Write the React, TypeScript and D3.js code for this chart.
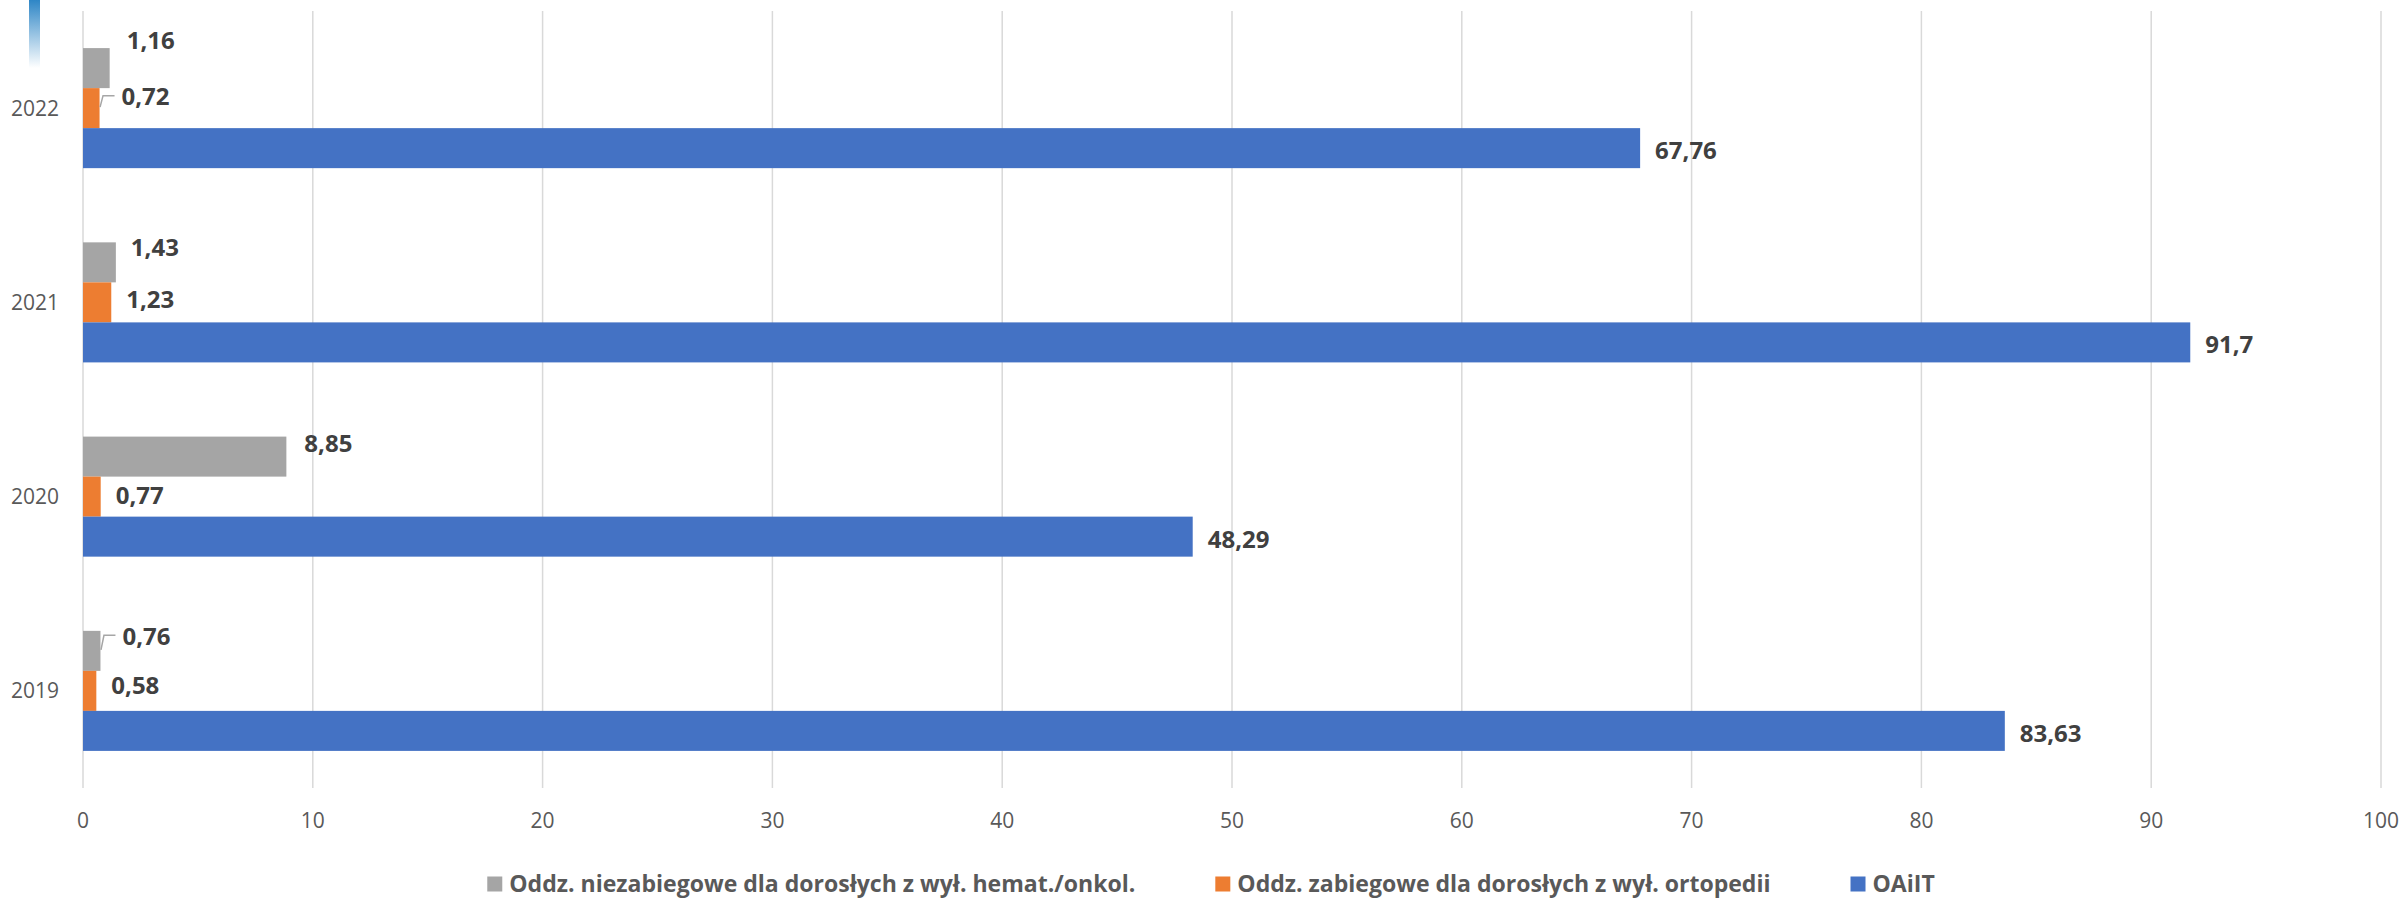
import React, { useEffect, useRef } from 'react';
import * as d3 from 'd3';

// Categories (top to bottom) and series values
const years = ['2022', '2021', '2020', '2019'];
const seriesNames = [
  'Oddz. niezabiegowe dla dorosłych z wył. hemat./onkol.',
  'Oddz. zabiegowe dla dorosłych z wył. ortopedii',
  'OAiIT',
];
const hematOnkol = [1.16, 1.43, 8.85, 0.76];
const ortopedia = [0.72, 1.23, 0.77, 0.58];
const oaiit = [67.76, 91.7, 48.29, 83.63];
const xTicks = [0, 10, 20, 30, 40, 50, 60, 70, 80, 90, 100];

const seriesColors = ['#A5A5A5', '#ED7D31', '#4472C4'];

// Manual label nudges per series / year (dx, dy in px), some with leader lines
const labelNudges = [
  [{ dx: 2, dy: -30 }, { dx: 0, dy: -17 }, { dx: 3, dy: -16 }, { dx: 7, dy: -17, leader: true }],
  [{ dx: 7, dy: -14, leader: true }, { dx: 0, dy: -5 }, { dx: 0, dy: -4 }, { dx: 0, dy: -8 }],
  [{ dx: 0, dy: 0 }, { dx: 0, dy: 0 }, { dx: 0, dy: 0 }, { dx: 0, dy: 0 }],
];

const W = 2405;
const H = 900;
const FONT = "'Open Sans', 'DejaVu Sans', sans-serif";

const fmt = (v: number) => String(v).replace('.', ',');

export default function App() {
  const ref = useRef<SVGSVGElement | null>(null);

  useEffect(() => {
    const svg = d3.select(ref.current);
    svg.selectAll('*').remove();

    const series = [hematOnkol, ortopedia, oaiit];

    const x = d3.scaleLinear().domain([0, 100]).range([83, 2381]);
    const y = d3
      .scaleBand<string>()
      .domain(years)
      .range([11, 788])
      .paddingInner(0.382)
      .paddingOuter(0.191);
    const inner = d3
      .scaleBand<number>()
      .domain([0, 1, 2])
      .range([0, y.bandwidth()]);

    // small gradient marker in the top-left corner
    const defs = svg.append('defs');
    const grad = defs
      .append('linearGradient')
      .attr('id', 'cornerGrad')
      .attr('x1', 0)
      .attr('y1', 0)
      .attr('x2', 0)
      .attr('y2', 1);
    grad.append('stop').attr('offset', '0%').attr('stop-color', '#2E86C6');
    grad.append('stop').attr('offset', '100%').attr('stop-color', '#FFFFFF');
    svg
      .append('rect')
      .attr('x', 29)
      .attr('y', 0)
      .attr('width', 11)
      .attr('height', 68)
      .attr('fill', 'url(#cornerGrad)');

    // vertical gridlines
    svg
      .append('g')
      .selectAll('line')
      .data(xTicks)
      .join('line')
      .attr('x1', (d) => x(d))
      .attr('x2', (d) => x(d))
      .attr('y1', 11)
      .attr('y2', 788)
      .attr('stroke', '#D9D9D9')
      .attr('stroke-width', 1.5);

    // x tick labels
    svg
      .append('g')
      .selectAll('text')
      .data(xTicks)
      .join('text')
      .attr('x', (d) => x(d))
      .attr('y', 827.5)
      .attr('text-anchor', 'middle')
      .attr('font-family', FONT)
      .attr('font-size', 21)
      .attr('fill', '#595959')
      .text((d) => String(d));

    // category labels
    svg
      .append('g')
      .selectAll('text')
      .data(years)
      .join('text')
      .attr('x', 59)
      .attr('y', (d) => (y(d) as number) + y.bandwidth() / 2 + 7.5)
      .attr('text-anchor', 'end')
      .attr('font-family', FONT)
      .attr('font-size', 21)
      .attr('fill', '#595959')
      .text((d) => d);

    // bars and labels
    series.forEach((vals, si) => {
      const g = svg.append('g');
      g.selectAll('rect')
        .data(vals)
        .join('rect')
        .attr('x', x(0))
        .attr('y', (_, i) => (y(years[i]) as number) + (inner(si) as number))
        .attr('width', (d) => x(d) - x(0))
        .attr('height', inner.bandwidth())
        .attr('fill', seriesColors[si]);

      vals.forEach((v, i) => {
        const nudge = labelNudges[si][i] as { dx: number; dy: number; leader?: boolean };
        const barEnd = x(v);
        const barMid = (y(years[i]) as number) + (inner(si) as number) + inner.bandwidth() / 2;
        const lx = barEnd + 15 + nudge.dx;
        const ly = barMid + 2.5 + nudge.dy;
        g.append('text')
          .attr('x', lx)
          .attr('y', ly + 8.6)
          .attr('font-family', FONT)
          .attr('font-weight', 700)
          .attr('font-size', 24)
          .attr('fill', '#404040')
          .text(fmt(v));
        if (nudge.leader) {
          g.append('path')
            .attr(
              'd',
              `M${barEnd + 0.5},${barMid - 1}L${barEnd + 3.5},${ly - 1}L${lx - 7},${ly - 1}`
            )
            .attr('fill', 'none')
            .attr('stroke', '#A6A6A6')
            .attr('stroke-width', 1.5);
        }
      });
    });

    // legend
    const legend = svg.append('g');
    const squeeze = 0.96;
    const items = seriesNames.map((name, i) => {
      const item = legend.append('g');
      item
        .append('rect')
        .attr('x', 0)
        .attr('y', -7.5)
        .attr('width', 15)
        .attr('height', 15)
        .attr('fill', seriesColors[i]);
      const t = item
        .append('text')
        .attr('x', 0)
        .attr('y', 8)
        .attr('font-family', FONT)
        .attr('font-weight', 700)
        .attr('font-size', 24)
        .attr('fill', '#595959')
        .attr('transform', `translate(22,0) scale(${squeeze},1)`)
        .text(name);
      const w = 22 + (t.node() as SVGTextElement).getComputedTextLength() * squeeze;
      return { item, w };
    });
    const gap = 80;
    const total = d3.sum(items, (d) => d.w) + gap * (items.length - 1);
    let cx = 1211 - total / 2;
    items.forEach(({ item, w }) => {
      item.attr('transform', `translate(${cx},884)`);
      cx += w + gap;
    });
  }, []);

  return (
    <svg
      ref={ref}
      width={W}
      height={H}
      style={{ position: 'absolute', left: 0, top: 0, background: '#fff' }}
    />
  );
}
